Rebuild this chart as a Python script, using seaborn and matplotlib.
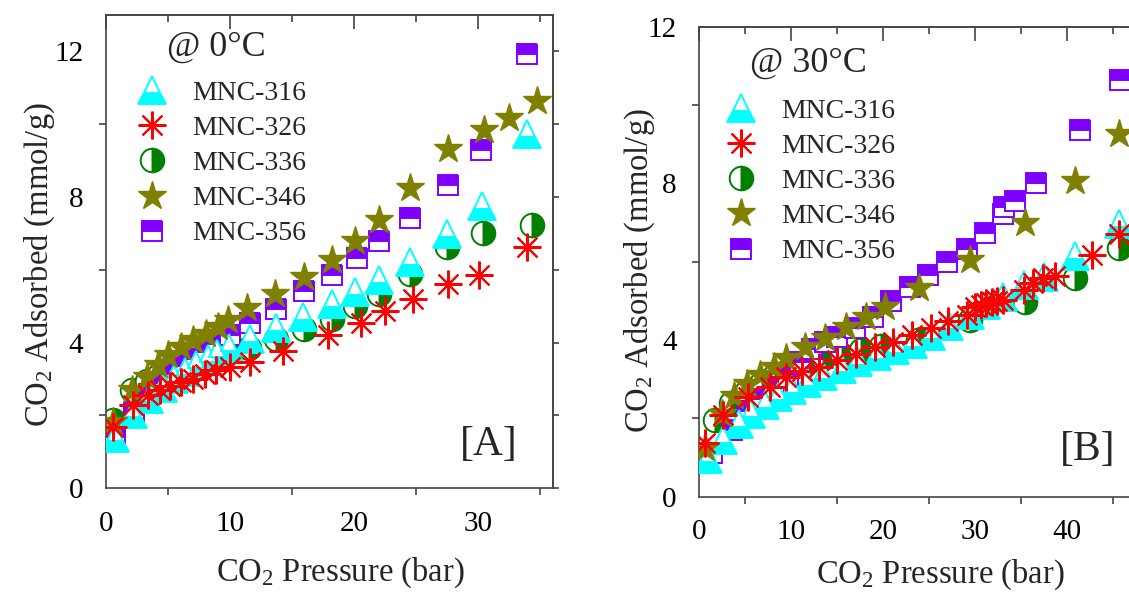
import matplotlib
matplotlib.use("Agg")
import matplotlib.pyplot as plt
import seaborn as sns
from matplotlib.ticker import MultipleLocator

# ---------------- data ----------------
labels = ["MNC-316", "MNC-326", "MNC-336", "MNC-346", "MNC-356"]

# Panel A (0 degC)
a316_x = [0.75, 2.2, 3.5, 4.6, 5.5, 6.4, 7.3, 8.2, 9.0, 9.9, 11.6, 13.7, 15.9, 18.2, 20.1, 22.0, 24.5, 27.5, 30.3, 33.9]
a316_y = [1.37, 2.05, 2.45, 2.75, 3.0, 3.2, 3.4, 3.55, 3.7, 3.85, 4.1, 4.4, 4.7, 5.07, 5.39, 5.71, 6.21, 6.99, 7.76, 9.73]
a326_x = [0.6, 2.2, 3.4, 4.4, 5.2, 6.1, 7.05, 8.0, 8.9, 10.0, 11.6, 14.3, 17.9, 20.6, 22.5, 24.75, 27.6, 30.1, 33.9]
a326_y = [1.69, 2.28, 2.56, 2.69, 2.8, 2.92, 3.01, 3.15, 3.24, 3.33, 3.47, 3.78, 4.2, 4.54, 4.86, 5.19, 5.6, 5.87, 6.62]
a336_x = [0.6, 2.1, 3.3, 4.3, 5.1, 6.0, 7.0, 8.0, 9.0, 10.0, 11.55, 13.7, 15.95, 18.2, 20.1, 22.0, 24.5, 27.5, 30.4, 34.3]
a336_y = [1.87, 2.69, 2.95, 3.1, 3.25, 3.35, 3.48, 3.58, 3.68, 3.75, 3.84, 4.11, 4.38, 4.66, 5.02, 5.34, 5.89, 6.62, 7.01, 7.24]
a346_x = [0.6, 2.1, 3.3, 4.23, 5.04, 6.1, 7.05, 8.1, 9.06, 9.87, 11.4, 13.6, 15.95, 18.2, 20.1, 22.0, 24.5, 27.6, 30.46, 32.5, 34.75]
a346_y = [1.82, 2.69, 3.06, 3.38, 3.65, 3.88, 4.06, 4.25, 4.43, 4.61, 4.95, 5.33, 5.80, 6.27, 6.78, 7.37, 8.25, 9.32, 9.84, 10.16, 10.64]
a356_x = [0.75, 2.3, 3.5, 4.4, 5.3, 6.2, 7.1, 8.0, 9.0, 10.0, 11.6, 13.7, 15.95, 18.2, 20.2, 22.0, 24.5, 27.6, 30.2, 33.9]
a356_y = [1.4, 2.06, 2.6, 2.9, 3.15, 3.35, 3.55, 3.75, 3.95, 4.2, 4.55, 4.93, 5.41, 5.87, 6.33, 6.8, 7.42, 8.33, 9.3, 11.92]

# Panel B (30 degC)
b316_x = [1.0, 2.6, 4.3, 5.7, 7.2, 8.6, 10.1, 11.7, 13.5, 15.5, 17.3, 19.3, 21.3, 23.3, 25.2, 27.2, 29.5, 31.2, 33.0, 35.3, 37.5, 40.9, 45.7]
b316_y = [0.95, 1.45, 1.85, 2.12, 2.35, 2.55, 2.73, 2.9, 3.07, 3.27, 3.45, 3.6, 3.75, 3.9, 4.1, 4.35, 4.65, 4.9, 5.1, 5.4, 5.6, 6.15, 6.95]
b326_x = [0.65, 2.65, 5.3, 7.7, 9.5, 11.2, 13.0, 15.0, 17.05, 19.1, 21.1, 23.1, 25.2, 27.1, 29.1, 30.0, 30.6, 31.2, 31.8, 32.4, 33.0, 35.3, 36.3, 37.4, 38.7, 42.7, 45.7]
b326_y = [1.37, 2.09, 2.54, 2.81, 3.05, 3.2, 3.32, 3.5, 3.64, 3.81, 3.94, 4.14, 4.31, 4.48, 4.65, 4.85, 4.9, 4.95, 4.98, 5.0, 5.02, 5.28, 5.46, 5.59, 5.63, 6.16, 6.7]
b336_x = [1.7, 3.5, 5.2, 6.8, 8.3, 9.8, 11.5, 13.5, 15.5, 17.6, 19.8, 23.8, 29.5, 35.4, 40.9, 45.7]
b336_y = [1.95, 2.4, 2.7, 2.92, 3.1, 3.25, 3.4, 3.54, 3.62, 3.75, 3.85, 4.0, 4.5, 4.97, 5.59, 6.35]
b346_x = [0.65, 2.5, 3.8, 5.2, 6.6, 8.1, 9.5, 11.5, 13.7, 16.0, 18.1, 20.2, 23.9, 29.5, 35.4, 40.9, 45.6]
b346_y = [1.25, 2.1, 2.56, 2.88, 3.11, 3.32, 3.55, 3.82, 4.05, 4.33, 4.6, 4.85, 5.32, 6.05, 6.99, 8.06, 9.25]
b356_x = [1.4, 3.55, 5.2, 6.7, 8.2, 9.7, 11.0, 12.3, 13.7, 15.0, 17.0, 18.95, 20.9, 22.9, 24.9, 27.0, 29.1, 31.1, 33.0, 33.2, 34.35, 36.6, 41.4, 45.8]
b356_y = [1.11, 1.7, 2.2, 2.5, 2.8, 3.05, 3.45, 3.78, 3.95, 4.09, 4.31, 4.6, 5.0, 5.35, 5.65, 6.0, 6.33, 6.74, 7.22, 7.4, 7.55, 8.02, 9.35, 10.64]

panel_a = [(a316_x, a316_y), (a326_x, a326_y), (a336_x, a336_y), (a346_x, a346_y), (a356_x, a356_y)]
panel_b = [(b316_x, b316_y), (b326_x, b326_y), (b336_x, b336_y), (b346_x, b346_y), (b356_x, b356_y)]

# ---------------- styles ----------------
colors = ["#00FFFF", "#FF0000", "#008000", "#808000", "#8000FF"]
markers = ["^", (8, 2, 0), "o", "*", "s"]
fills = ["bottom", "full", "right", "full", "top"]
msizes = [20, 20, 17, 21, 15]
mews = [1.4, 1.5, 1.4, 1.0, 1.4]
zorders = [4, 6, 2, 5, 3]

sns.set_theme(style="white")
plt.rcParams["font.family"] = ["Liberation Serif", "DejaVu Serif"]
plt.rcParams["mathtext.fontset"] = "custom"
plt.rcParams["mathtext.rm"] = "Liberation Serif"
plt.rcParams["mathtext.it"] = "Liberation Serif:italic"
plt.rcParams["axes.unicode_minus"] = False

W, H = 1129, 592
fig = plt.figure(figsize=(W / 100, H / 100), dpi=100)

spine_c = "#444444"


def draw_panel(ax, data, xlim, ylim, temp, tag, leg_anchor, temp_pos, tag_pos,
               xlab_pos, ylab_pos):
    for i, (xs, ys) in enumerate(data):
        sns.lineplot(x=xs, y=ys, ax=ax, estimator=None, sort=False,
                     color=colors[i], marker=markers[i], linestyle="none",
                     markersize=msizes[i], fillstyle=fills[i],
                     markerfacecolor=colors[i], markerfacecoloralt="white",
                     markeredgecolor=colors[i], markeredgewidth=mews[i],
                     label=labels[i], zorder=zorders[i])
    ax.set_xlim(*xlim)
    ax.set_ylim(*ylim)
    ax.xaxis.set_major_locator(MultipleLocator(10))
    ax.xaxis.set_minor_locator(MultipleLocator(5))
    ax.yaxis.set_major_locator(MultipleLocator(4))
    ax.yaxis.set_minor_locator(MultipleLocator(2))
    for s in ax.spines.values():
        s.set_color(spine_c)
        s.set_linewidth(1.2)
    ax.tick_params(axis="both", which="major", direction="out", length=10,
                   width=1.2, color=spine_c, labelsize=21, pad=6,
                   top=False, right=False, labelcolor="black")
    ax.tick_params(axis="both", which="minor", direction="out", length=5,
                   width=1.2, color=spine_c, top=False, right=False,
                   bottom=True, left=True)
    top = ax.secondary_xaxis("top")
    top.xaxis.set_major_locator(MultipleLocator(10))
    top.xaxis.set_minor_locator(MultipleLocator(5))
    top.tick_params(which="major", direction="in", length=10, width=1.2,
                    color=spine_c, labeltop=False)
    top.tick_params(which="minor", direction="in", length=5, width=1.2,
                    color=spine_c)
    top.spines["top"].set_color(spine_c)
    top.spines["top"].set_linewidth(1.2)
    right = ax.secondary_yaxis("right")
    right.yaxis.set_major_locator(MultipleLocator(4))
    right.yaxis.set_minor_locator(MultipleLocator(2))
    right.tick_params(which="both", direction="out", length=4, width=1.2,
                      color=spine_c, labelright=False)
    right.spines["right"].set_color(spine_c)
    right.spines["right"].set_linewidth(1.2)

    ax.set_xlabel("CO$_2$ Pressure (bar)", fontsize=23.5)
    ax.set_ylabel("CO$_2$ Adsorbed (mmol/g)", fontsize=23.5)
    ax.xaxis.set_label_coords(*xlab_pos)
    ax.yaxis.set_label_coords(*ylab_pos)

    ax.legend(loc="upper left", bbox_to_anchor=leg_anchor, frameon=False,
              fontsize=20, handlelength=1.0, handletextpad=0.95,
              labelspacing=0.35, borderpad=0, borderaxespad=0, numpoints=1)
    ax.text(temp_pos[0], temp_pos[1], temp, transform=ax.transAxes,
            fontsize=26, ha="left", va="center")
    ax.text(tag_pos[0], tag_pos[1], tag, transform=ax.transAxes,
            fontsize=30, ha="right", va="center")


axA = fig.add_axes([105.7 / W, 1 - 488.3 / H, 447 / W, 473.3 / H])
draw_panel(axA, panel_a, (0, 36), (0, 13), "@ 0°C", "[A]",
           (0.072, 0.862), (0.137, 0.932), (0.922, 0.092),
           (0.524, -0.143), (-0.109, 0.472))

axB = fig.add_axes([699 / W, 1 - 496.7 / H, 441.6 / W, 470 / H])
draw_panel(axB, panel_b, (0, 48), (0, 12), "@ 30°C", "[B]",
           (0.0635, 0.848), (0.116, 0.923), (0.942, 0.099),
           (0.546, -0.130), (-0.095, 0.482))

fig.savefig("out.png", dpi=100)
